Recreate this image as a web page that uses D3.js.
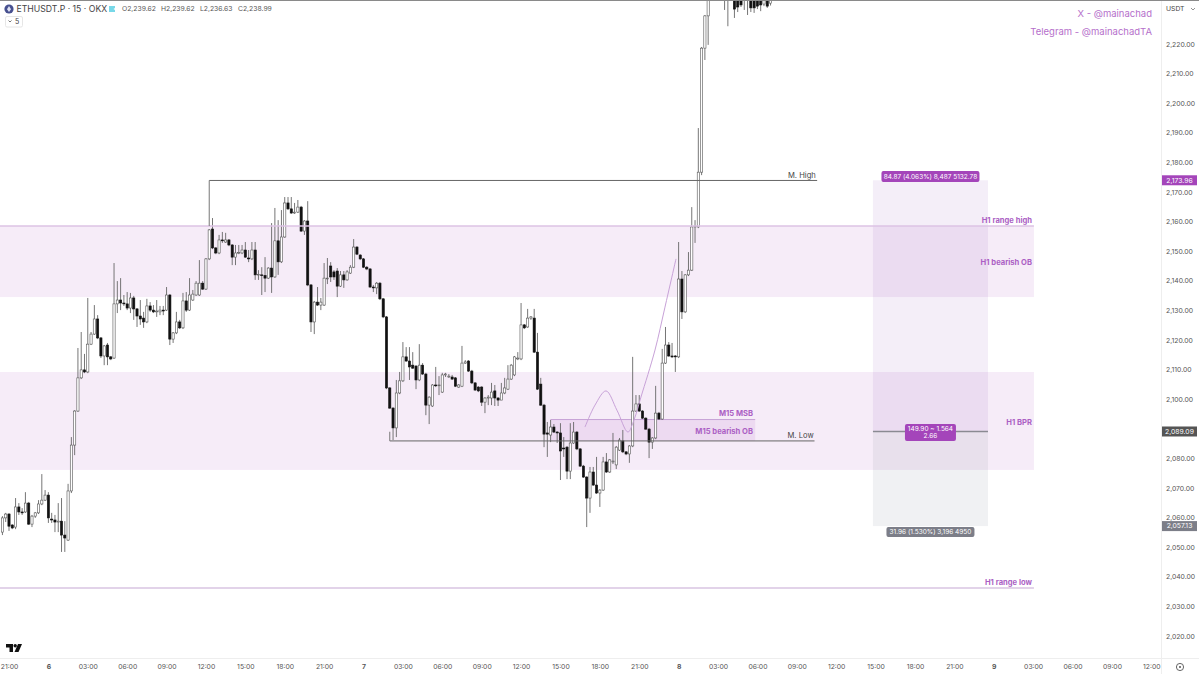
<!DOCTYPE html>
<html>
<head>
<meta charset="utf-8">
<title>ETHUSDT.P 15 OKX</title>
<script src="https://cdn.jsdelivr.net/npm/d3@7"></script>
<style>
  html, body { margin: 0; padding: 0; background: #fff; }
  svg { display: block; font-family: Inter, "Liberation Sans", sans-serif; }
  .axis text { fill: #555; font-size: 6.8px; font-family: Inter, sans-serif; }
  .axis path, .axis line { display: none; }
  .tool { font-weight: 700; fill: #ab5fc4; font-size: 7.6px; text-anchor: end; }
  .tag { fill: #fff; font-size: 6.5px; text-anchor: middle; }
</style>
</head>
<body>
<svg id="chart" width="1199" height="674"></svg>
<script>
// 15 minute candles. first bar is 20:30 on the 5th
var opens = [
  2055.1,2059.9,2061.2,2057.5,2056.8,2063.6,2061.9,2061.9,2064.9,2057.8,
  2060.5,2061.6,2064.6,2065.9,2067.6,2059.5,2059.2,2058.5,2058.8,2054.1,
  2052.4,2069.0,2084.5,2096.0,2107.2,2109.9,2109.2,2118.6,2122.0,2127.1,
  2120.7,2114.6,2118.3,2114.3,2113.9,2132.2,2133.5,2132.5,2132.2,2130.8,
  2134.2,2130.5,2128.1,2127.4,2126.1,2131.5,2130.1,2129.5,2129.5,2130.1,
  2130.1,2135.2,2120.3,2122.4,2126.1,2124.1,2133.2,2130.1,2133.5,2135.2,
  2135.2,2139.2,2137.2,2147.4,2157.5,2151.1,2149.4,2153.8,2153.1,2153.8,
  2152.1,2148.0,2149.4,2149.4,2150.4,2147.7,2147.4,2150.4,2142.0,2142.0,
  2141.8,2140.9,2144.3,2141.3,2153.5,2146.4,2154.8,2166.3,2164.3,2162.9,
  2163.2,2164.9,2156.8,2160.2,2138.6,2126.1,2132.8,2131.8,2131.8,2140.9,
  2145.0,2143.0,2143.3,2138.2,2142.0,2140.3,2142.6,2144.6,2151.4,2148.7,
  2147.4,2144.6,2144.0,2137.9,2137.6,2139.2,2133.9,2127.8,2103.8,2097.0,
  2090.3,2102.1,2106.2,2114.3,2112.9,2111.5,2111.2,2106.5,2111.5,2108.5,
  2098.0,2097.7,2104.8,2104.6,2102.4,2108.2,2107.5,2107.5,2107.2,2104.1,
  2104.4,2112.2,2112.9,2109.5,2105.5,2104.1,2104.1,2099.0,2100.4,2100.4,
  2102.8,2100.4,2099.7,2102.1,2103.4,2106.8,2108.2,2113.6,2113.6,2125.1,
  2124.4,2127.4,2127.4,2115.9,2105.1,2098.0,2088.6,2087.9,2090.6,2088.9,
  2088.6,2083.5,2083.8,2075.7,2085.2,2088.9,2083.2,2077.4,2073.7,2066.6,
  2075.4,2071.0,2068.3,2069.3,2078.8,2075.4,2078.8,2077.8,2082.8,2085.9,
  2082.2,2081.5,2084.2,2096.0,2098.4,2096.0,2093.6,2089.9,2085.5,2086.9,
  2095.3,2093.3,2112.2,2118.3,2114.6,2114.6,2114.3,2140.6,2129.5,2142.0,
  2143.6,2158.2,2158.2,2176.7,2218.6,2229.5,2238.0,2245.0,2250.0,2248.0,
  2246.0,2242.0,2244.0,2243.0,2238.0,2238.0,2236.0,2240.0,2240.0,2238.0,
  2238.0,2237.0,2233.5,2238.0,2233.8,2239.62
];
var highs = [
  2060.5,2061.6,2061.5,2057.8,2066.6,2064.9,2063.2,2068.6,2065.3,2060.9,
  2061.9,2065.9,2074.7,2069.3,2068.6,2061.6,2060.9,2064.9,2066.6,2058.8,
  2071.4,2087.2,2096.3,2117.3,2122.7,2115.3,2134.2,2122.7,2131.8,2128.4,
  2121.0,2118.3,2119.0,2114.6,2146.0,2139.9,2140.9,2135.2,2136.2,2135.9,
  2134.9,2130.8,2133.5,2129.5,2133.9,2132.8,2131.8,2133.5,2131.5,2131.5,
  2137.9,2135.5,2122.7,2129.5,2126.8,2135.9,2136.2,2140.9,2136.9,2139.9,
  2147.0,2139.9,2147.7,2157.5,2161.2,2151.4,2155.5,2156.5,2156.2,2154.1,
  2152.4,2152.1,2152.1,2152.1,2153.1,2150.4,2153.1,2153.1,2143.6,2144.6,
  2148.0,2144.6,2159.5,2164.6,2160.5,2163.9,2168.3,2168.3,2168.3,2166.3,
  2167.3,2165.3,2160.5,2166.9,2138.9,2133.2,2137.9,2134.2,2146.0,2147.7,
  2146.3,2143.6,2144.3,2143.3,2143.3,2143.6,2145.3,2154.1,2151.7,2149.0,
  2147.7,2145.0,2144.3,2138.6,2139.6,2139.6,2134.2,2128.1,2104.1,2097.3,
  2106.5,2109.2,2119.3,2117.6,2117.6,2115.9,2111.5,2118.6,2112.2,2108.9,
  2101.0,2105.1,2110.9,2107.8,2108.9,2108.9,2108.5,2108.2,2107.5,2105.1,
  2118.0,2113.2,2113.2,2109.9,2105.8,2104.4,2104.4,2100.7,2101.4,2105.5,
  2104.8,2100.7,2105.5,2107.2,2111.5,2111.9,2114.6,2115.9,2132.5,2125.4,
  2130.5,2128.1,2130.5,2122.4,2107.2,2098.4,2092.3,2093.0,2091.6,2089.2,
  2091.9,2087.2,2084.2,2091.9,2092.3,2089.2,2083.5,2077.8,2074.0,2077.1,
  2077.1,2080.5,2069.6,2080.5,2081.8,2079.8,2088.6,2084.2,2086.9,2089.6,
  2082.5,2084.5,2114.3,2101.4,2101.4,2096.3,2093.9,2090.3,2087.2,2104.5,
  2095.7,2117.0,2124.4,2119.3,2119.0,2114.9,2153.1,2143.3,2142.3,2149.7,
  2164.9,2160.5,2191.6,2219.0,2229.8,2240.0,2250.0,2253.0,2255.0,2252.0,
  2250.0,2248.0,2247.0,2246.0,2240.0,2240.0,2243.0,2243.0,2243.0,2242.0,
  2241.0,2240.0,2240.0,2240.0,2239.6,2239.62
];
var lows = [
  2054.1,2058.5,2055.5,2056.1,2056.1,2060.9,2060.9,2061.6,2057.5,2056.8,
  2059.9,2061.2,2064.2,2065.6,2058.2,2058.2,2055.1,2055.1,2048.4,2048.4,
  2052.1,2068.3,2081.1,2095.7,2106.8,2108.8,2108.8,2118.3,2121.7,2120.3,
  2113.9,2111.5,2111.5,2113.2,2113.6,2129.1,2130.1,2131.5,2130.1,2129.1,
  2126.8,2124.4,2125.1,2124.1,2125.7,2129.5,2129.1,2127.8,2128.4,2128.4,
  2129.8,2118.3,2119.0,2122.0,2123.7,2123.7,2129.5,2129.8,2133.2,2134.9,
  2134.9,2136.9,2136.9,2147.0,2150.7,2149.0,2149.0,2152.8,2152.8,2151.7,
  2145.3,2145.3,2149.0,2149.0,2147.7,2146.3,2147.0,2140.3,2140.3,2135.2,
  2136.2,2140.6,2135.9,2141.0,2142.0,2146.0,2154.5,2163.9,2162.6,2162.6,
  2162.9,2156.5,2155.5,2138.2,2122.7,2122.0,2131.5,2130.1,2131.5,2138.9,
  2139.6,2140.3,2134.5,2137.9,2137.6,2140.0,2142.3,2144.3,2148.7,2147.0,
  2144.3,2143.6,2137.6,2136.2,2135.5,2133.5,2127.4,2103.4,2096.7,2086.2,
  2087.2,2101.7,2105.8,2112.6,2106.5,2110.2,2103.4,2106.1,2108.2,2094.6,
  2091.6,2097.4,2104.1,2101.4,2102.1,2107.5,2107.2,2106.5,2104.1,2103.8,
  2104.1,2111.9,2109.2,2105.1,2102.8,2102.4,2097.7,2095.3,2098.0,2098.0,
  2097.7,2097.7,2099.7,2101.7,2103.1,2106.5,2107.8,2113.2,2113.2,2123.7,
  2124.1,2126.8,2115.6,2103.1,2097.7,2083.8,2080.5,2085.5,2088.6,2085.2,
  2072.7,2080.5,2073.0,2073.0,2084.9,2082.8,2077.1,2073.4,2056.8,2061.6,
  2070.7,2068.0,2063.6,2069.0,2075.1,2075.1,2078.1,2076.4,2082.5,2081.8,
  2081.1,2078.5,2083.8,2095.7,2095.7,2093.3,2089.6,2080.1,2083.2,2086.5,
  2093.0,2093.0,2111.9,2114.3,2113.9,2109.2,2113.9,2127.1,2129.1,2141.6,
  2143.3,2152.8,2157.8,2175.7,2214.6,2219.7,2237.0,2243.0,2246.0,2244.0,
  2231.5,2226.0,2237.0,2228.8,2230.8,2232.5,2231.5,2229.8,2230.8,2230.5,
  2231.8,2231.1,2232.8,2232.2,2233.0,2236.63
];
var closes = [
  2059.9,2061.2,2057.1,2056.5,2063.6,2061.9,2061.6,2064.9,2057.8,2060.5,
  2061.6,2064.6,2065.9,2067.6,2059.9,2059.2,2058.5,2058.8,2054.1,2053.1,
  2069.0,2084.5,2096.0,2107.2,2109.9,2109.2,2118.6,2122.0,2127.1,2120.7,
  2114.6,2118.0,2114.3,2113.6,2132.2,2133.5,2132.5,2132.2,2130.8,2134.2,
  2130.5,2128.1,2127.1,2126.1,2131.5,2130.1,2129.5,2129.8,2130.1,2129.8,
  2135.2,2120.3,2122.4,2126.1,2124.1,2133.2,2130.1,2135.2,2135.5,2139.2,
  2139.2,2137.2,2147.4,2157.2,2151.1,2149.4,2153.8,2153.5,2153.8,2152.1,
  2148.0,2149.4,2149.6,2150.4,2148.0,2147.4,2150.4,2142.0,2142.2,2141.8,
  2140.9,2144.3,2141.3,2153.5,2146.4,2154.8,2166.3,2164.3,2162.9,2163.2,
  2164.9,2156.8,2160.2,2138.6,2126.1,2132.8,2131.8,2132.8,2140.9,2140.9,
  2141.3,2141.3,2138.2,2142.0,2140.3,2143.0,2144.6,2151.4,2149.0,2147.4,
  2144.6,2144.0,2137.9,2137.6,2139.2,2133.9,2127.8,2103.8,2097.0,2090.3,
  2102.1,2106.2,2114.3,2112.9,2110.9,2110.5,2106.5,2111.5,2108.5,2098.0,
  2100.7,2104.8,2104.6,2104.8,2108.2,2108.5,2107.8,2106.8,2104.4,2104.8,
  2112.2,2112.6,2109.5,2105.5,2103.1,2102.8,2099.0,2100.4,2100.7,2102.4,
  2100.4,2099.7,2102.1,2103.8,2106.8,2111.5,2114.3,2113.9,2125.1,2124.1,
  2127.4,2127.8,2115.9,2103.4,2098.0,2088.2,2088.2,2090.6,2088.9,2088.6,
  2082.5,2083.2,2075.7,2085.2,2088.9,2083.2,2077.4,2073.7,2066.6,2075.4,
  2071.0,2068.3,2069.3,2078.8,2075.4,2079.5,2079.1,2083.8,2086.2,2082.2,
  2081.5,2084.2,2096.0,2098.4,2096.0,2093.6,2089.9,2085.5,2086.9,2095.3,
  2093.3,2112.2,2118.3,2114.6,2114.3,2114.3,2140.6,2129.5,2142.0,2143.6,
  2158.2,2158.5,2176.7,2218.6,2229.5,2238.0,2245.0,2250.0,2248.0,2246.0,
  2242.0,2244.0,2241.0,2231.8,2232.5,2233.2,2240.0,2238.0,2232.2,2232.2,
  2232.8,2233.2,2238.0,2232.8,2238.9,2238.99
];

// price axis (2,090 sits under the entry tag)
var priceTicks = [2220,2210,2200,2190,2180,2170,2160,2150,2140,2130,2120,2110,2100,2080,2070,2060,2050,2040,2030,2020];
// time axis, hours counted from 00:00 on the 6th
var timeTicks = [-3,0,3,6,9,12,15,18,21,24,27,30,33,36,39,42,45,48,51,54,57,60,63,66,69,72,75,78,81,84];
var timeLabels = ["21:00","6","03:00","06:00","09:00","12:00","15:00","18:00","21:00","7","03:00","06:00","09:00","12:00","15:00","18:00","21:00","8","03:00","06:00","09:00","12:00","15:00","18:00","21:00","9","03:00","06:00","09:00","12:00"];

// drawn levels
var mHigh = 2173.9, mLow = 2085.9;
var rangeHigh = 2158.5, obLow = 2134.5;
var bprHigh = 2109.2, bprLow = 2076.1;
var rangeLow = 2036.2;
var m15High = 2093.3;
var entry = 2089.09, target = 2173.96, stop = 2057.13;

// the thin projection curve
var curveHours = [40.87,41.63,42.47,43.3,44.14,44.6,45.13,46.2,46.96,47.8];
var curvePrices = [2090.6,2098,2102.8,2096.3,2088.9,2093,2100.7,2116.6,2131.1,2147.4];

var svg = d3.select("#chart");
var W = 1199, H = 674, plotR = 1161, plotB = 658;

var x = d3.scaleLinear().domain([-3, 84]).range([9, 1151.3]);
var y = d3.scaleLinear().domain([2220, 2020]).range([44, 636]);
var purple = "rgb(156,39,176)";

svg.append("defs").append("clipPath").attr("id", "plot")
  .append("rect").attr("x", 0).attr("y", 1).attr("width", plotR).attr("height", plotB - 1);

var plot = svg.append("g").attr("clip-path", "url(#plot)");

function band(top, bottom, x0, x1, fill, op) {
  plot.append("rect")
    .attr("x", x0).attr("y", y(top))
    .attr("width", x1 - x0).attr("height", y(bottom) - y(top))
    .attr("fill", fill).attr("fill-opacity", op);
}

// hour positions of the things anchored in time
var zoneEnd = x(75.06), mHighStart = x(12.25), mHighEnd = x(58.55), mLowStart = x(26.0), mLowEnd = x(58.35);
var m15Start = x(38.25), m15End = x(53.83), posStart = x(62.8), posEnd = x(71.56);

band(rangeHigh, obLow, 0, zoneEnd, purple, 0.09);
band(bprHigh, bprLow, 0, zoneEnd, purple, 0.09);
band(m15High, mLow, m15Start, m15End, purple, 0.09);
plot.append("rect").attr("x", m15Start).attr("y", y(m15High)).attr("width", m15End - m15Start).attr("height", 1)
  .attr("fill", "#c7a3d6");

band(target, entry, posStart, posEnd, "rgb(126,60,170)", 0.085);
band(entry, stop, posStart, posEnd, "rgb(120,130,150)", 0.11);

// candles
var bars = opens.map(function(o, i) {
  return { h: -3.5 + i * 0.25, o: o, hi: highs[i], lo: lows[i], c: closes[i] };
});

var candles = plot.append("g").selectAll("g").data(bars).enter().append("g");
candles.append("line")
  .attr("x1", function(d) { return x(d.h); })
  .attr("x2", function(d) { return x(d.h); })
  .attr("y1", function(d) { return y(d.hi); })
  .attr("y2", function(d) { return y(d.lo); })
  .attr("stroke", "#666")
  .attr("stroke-width", 0.9);
candles.append("rect")
  .attr("x", function(d) { return x(d.h) - 1.1; })
  .attr("y", function(d) { return y(Math.max(d.o, d.c)); })
  .attr("width", 2.2)
  .attr("height", function(d) { return Math.max(0.8, Math.abs(y(d.o) - y(d.c))); })
  .attr("fill", function(d) { return d.c >= d.o ? "#fff" : "#111"; })
  .attr("stroke", function(d) { return d.c >= d.o ? "#555" : "#111"; })
  .attr("stroke-width", 0.6);

// curve
var curve = d3.line()
  .x(function(d) { return x(d[0]); })
  .y(function(d) { return y(d[1]); })
  .curve(d3.curveCatmullRom);
plot.append("path")
  .attr("d", curve(d3.zip(curveHours, curvePrices)))
  .attr("fill", "none").attr("stroke", "#c8a2d8").attr("stroke-width", 1);

// level lines
function level(price, x0, x1, color, w) {
  plot.append("line").attr("x1", x0).attr("x2", x1).attr("y1", y(price)).attr("y2", y(price))
    .attr("stroke", color).attr("stroke-width", w);
}
level(rangeHigh, 0, zoneEnd, "#dcc3e4", 1.5);
level(rangeLow, 0, zoneEnd, "#d8c4e2", 1.5);
level(mHigh, mHighStart, mHighEnd, "#666", 1);
level(mLow, mLowStart, mLowEnd, "#666", 1);
plot.append("line").attr("x1", mHighStart).attr("x2", mHighStart).attr("y1", y(mHigh)).attr("y2", y(2158.5))
  .attr("stroke", "#777").attr("stroke-width", 1);
plot.append("line").attr("x1", mLowStart).attr("x2", mLowStart).attr("y1", y(mLow)).attr("y2", y(2089))
  .attr("stroke", "#777").attr("stroke-width", 1);
level(entry, posStart, posEnd, "#8a8a92", 1.5);

// drawn labels
function toolLabel(txt, px, price) {
  svg.append("text").attr("class", "tool").attr("x", px).attr("y", y(price)).attr("dy", "0.35em").text(txt);
}
toolLabel("H1 range high", 1032, 2160.4);
toolLabel("H1 bearish OB", 1032, 2146.2);
toolLabel("H1 BPR", 1032, 2092.2);
toolLabel("H1 range low", 1032, 2038.2);
toolLabel("M15 MSB", 753, 2095.3);
toolLabel("M15 bearish OB", 753, 2089.2);

svg.append("text").attr("x", 788).attr("y", y(2175.5)).attr("dy", "0.35em")
  .attr("font-size", 7.6).attr("fill", "#444").text("M. High");
svg.append("text").attr("x", 787.5).attr("y", y(2087.8)).attr("dy", "0.35em")
  .attr("font-size", 7.6).attr("fill", "#444").text("M. Low");

// position tool tags
function posTag(lines, cx, w, top, h, color) {
  svg.append("rect").attr("x", cx - w / 2).attr("y", top).attr("width", w).attr("height", h).attr("rx", 2).attr("fill", color);
  lines.forEach(function(t, i) {
    svg.append("text").attr("class", "tag").attr("x", cx).attr("y", top + h / 2 + (i - (lines.length - 1) / 2) * 7.4)
      .attr("dy", "0.35em").text(t);
  });
}
posTag(["84.87 (4.063%) 8,487 5132.78"], (posStart + posEnd) / 2, 98, 171, 11, "#a445ba");
posTag(["149.90 ~ 1.564", "2.66"], (posStart + posEnd) / 2, 51, 424, 17, "#a445ba");
posTag(["31.96 (1.530%) 3,196 4950"], (posStart + posEnd) / 2, 88, 527, 10, "#7c7e88");

// axes
svg.append("line").attr("x1", plotR + 0.5).attr("x2", plotR + 0.5).attr("y1", 1).attr("y2", H).attr("stroke", "#eeeeee");
svg.append("line").attr("x1", 0).attr("x2", W).attr("y1", plotB + 0.5).attr("y2", plotB + 0.5).attr("stroke", "#eeeeee");
svg.append("line").attr("x1", 0).attr("x2", W).attr("y1", 0.5).attr("y2", 0.5).attr("stroke", "#8a8a8a");

var yAxis = d3.axisRight(y).tickValues(priceTicks).tickSize(0).tickPadding(0).tickFormat(d3.format(",.2f"));
svg.append("g").attr("class", "axis").attr("transform", "translate(1166,0)").call(yAxis);

var xAxis = d3.axisBottom(x).tickValues(timeTicks).tickSize(0).tickPadding(0)
  .tickFormat(function(d, i) { return timeLabels[i]; });
var xg = svg.append("g").attr("class", "axis").attr("transform", "translate(0,664)").call(xAxis);
xg.selectAll("text").attr("font-weight", function(d, i) { return timeLabels[i].length == 1 ? 700 : 400; });

// price tags on the axis
function priceTag(price, color) {
  svg.append("rect").attr("x", 1162).attr("y", y(price) - 5).attr("width", 35).attr("height", 10).attr("fill", color);
  svg.append("text").attr("x", 1179.5).attr("y", y(price)).attr("dy", "0.35em").attr("text-anchor", "middle")
    .attr("fill", "#fff").attr("font-size", 6.8).text(d3.format(",.2f")(price));
}
priceTag(target, "#a445ba");
priceTag(entry, "#555555");
priceTag(stop, "#7c7e88");

// top corner text
svg.append("text").attr("x", 1152).attr("y", 14).attr("dy", "0.35em").attr("text-anchor", "end")
  .attr("font-size", 9.5).attr("fill", "#b56fcb").text("X - @mainachad");
svg.append("text").attr("x", 1152).attr("y", 32).attr("dy", "0.35em").attr("text-anchor", "end")
  .attr("font-size", 9.5).attr("fill", "#b56fcb").text("Telegram - @mainachadTA");

svg.append("text").attr("x", 1166).attr("y", 9).attr("dy", "0.35em").attr("font-size", 6.8).attr("fill", "#444").text("USDT");
svg.append("path").attr("d", "M1191 8 l2 2 l2 -2").attr("fill", "none").attr("stroke", "#777").attr("stroke-width", 0.8);

// legend
svg.append("circle").attr("cx", 9).attr("cy", 9).attr("r", 4.6).attr("fill", "#47508f");
svg.append("path").attr("d", "M9 6 L11 9.2 L9 12 L7 9.2 Z").attr("fill", "#dfe2f2");
svg.append("text").attr("x", 16.5).attr("y", 9).attr("dy", "0.35em").attr("font-size", 8.7).attr("fill", "#444").text("ETHUSDT.P · 15 · OKX");
svg.append("path").attr("d", "M109 6 H115 V8 L113.5 9 L115 10 V12 H109 Z").attr("fill", "#77d8e8");
var ohlc = [["O", "2,239.62", 122], ["H", "2,239.62", 161], ["L", "2,236.63", 200], ["C", "2,238.99", 238]];
ohlc.forEach(function(d) {
  svg.append("text").attr("x", d[2]).attr("y", 9).attr("dy", "0.35em").attr("font-size", 6.8).attr("fill", "#555")
    .text(d[0] + d[1]);
});
svg.append("rect").attr("x", 5.5).attr("y", 16.5).attr("width", 17).attr("height", 10.5).attr("rx", 1.5)
  .attr("fill", "#fff").attr("stroke", "#e6e6e6");
svg.append("path").attr("d", "M8.5 20.5 l1.5 1.5 l1.5 -1.5").attr("fill", "none").attr("stroke", "#555").attr("stroke-width", 0.8);
svg.append("text").attr("x", 15).attr("y", 21.8).attr("dy", "0.35em").attr("font-size", 7).attr("fill", "#444").text("5");

// tradingview mark and the settings gear
svg.append("path").attr("d", "M6 644 H13 V652 H9.5 V647.5 H6 Z M18 644 H22 L18.5 652 H14.5 Z").attr("fill", "#111");
svg.append("circle").attr("cx", 15.2).attr("cy", 645.8).attr("r", 1.7).attr("fill", "#111");
svg.append("circle").attr("cx", 1180).attr("cy", 667).attr("r", 3.6).attr("fill", "none").attr("stroke", "#555").attr("stroke-width", 0.9);
svg.append("circle").attr("cx", 1180).attr("cy", 667).attr("r", 1).attr("fill", "#555");
</script>
</body>
</html>
